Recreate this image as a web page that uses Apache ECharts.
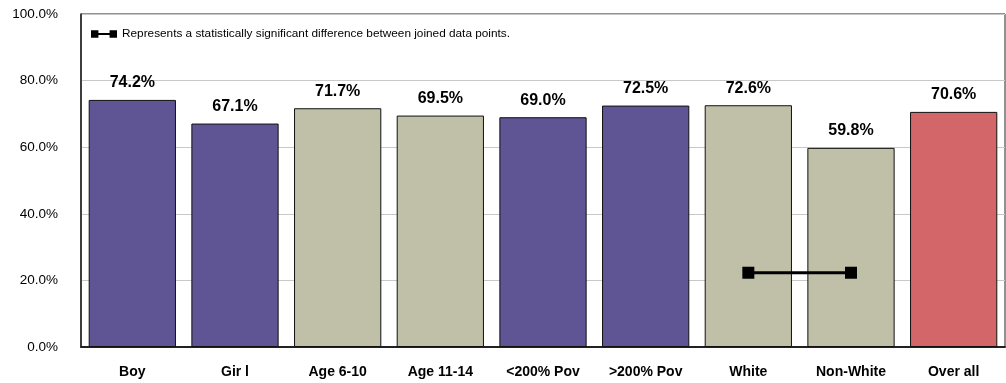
<!DOCTYPE html>
<html><head><meta charset="utf-8">
<script src="https://cdn.jsdelivr.net/npm/echarts@6/dist/echarts.min.js"></script>
<style>html,body{margin:0;padding:0;background:#fff}#c{width:1006px;height:383px}</style>
</head><body><div id="c"></div>
<script>
const categories = ['Boy','Gir l','Age 6-10','Age 11-14','<200% Pov','>200% Pov','White','Non-White','Over all'];
const values = [74.2, 67.1, 71.7, 69.5, 69.0, 72.5, 72.6, 59.8, 70.6];
const groups = ['sex','sex','age','age','pov','pov','race','race','all'];
const sigLine = [null, null, null, null, null, null, 22.3, 22.3, null];
const yTicks = [0, 20, 40, 60, 80, 100];
const legendText = 'Represents a statistically significant difference between joined data points.';

const groupColor = {sex:'#5f5494', pov:'#5f5494', age:'#c0c0a8', race:'#c0c0a8', all:'#d26668'};
const chart = echarts.init(document.getElementById('c'), null, {renderer:'canvas'});
chart.setOption({
  animation:false,
  textStyle:{fontFamily:'Liberation Sans, Arial, sans-serif'},
  grid:{left:81, right:1, top:14, bottom:36, show:true, borderColor:'#222', borderWidth:1},
  legend:{
    show:true, left:86, top:23, itemWidth:26, itemHeight:8, padding:5,
    icon:'path://M0,0H4V4H0Z M4,1.5H10V2.5H4Z M10,0H14V4H10Z',
    textStyle:{fontSize:11.8, color:'#000', fontFamily:'Liberation Sans, Arial, sans-serif'},
    data:[{name:legendText, itemStyle:{color:'#000'}}]
  },
  xAxis:{
    type:'category', data:categories,
    axisLine:{lineStyle:{color:'#222', width:2}},
    axisTick:{show:false},
    axisLabel:{fontWeight:'bold', fontSize:14, color:'#000', margin:18}
  },
  yAxis:{
    type:'value', min:0, max:100, interval:20,
    axisLine:{show:true, lineStyle:{color:'#222', width:1.5}},
    axisTick:{show:false},
    splitLine:{lineStyle:{color:'#c8c8c8'}},
    axisLabel:{fontSize:13.5, color:'#000', margin:23, formatter:v=>v.toFixed(1)+'%'}
  },
  series:[
    {
      type:'bar', barWidth:'85%',
      data:values.map((v,i)=>({value:v, itemStyle:{color:groupColor[groups[i]]}})),
      itemStyle:{borderColor:'#111', borderWidth:1},
      label:{show:true, position:'top', distance:9, fontWeight:'bold', fontSize:16, color:'#000',
        formatter:p=>p.value.toFixed(1)+'%'}
    },
    {
      name:legendText, type:'line', data:sigLine, connectNulls:false,
      symbol:'rect', symbolSize:12, showSymbol:true,
      lineStyle:{color:'#000', width:3}, itemStyle:{color:'#000'}, z:5
    }
  ]
});
</script></body></html>
